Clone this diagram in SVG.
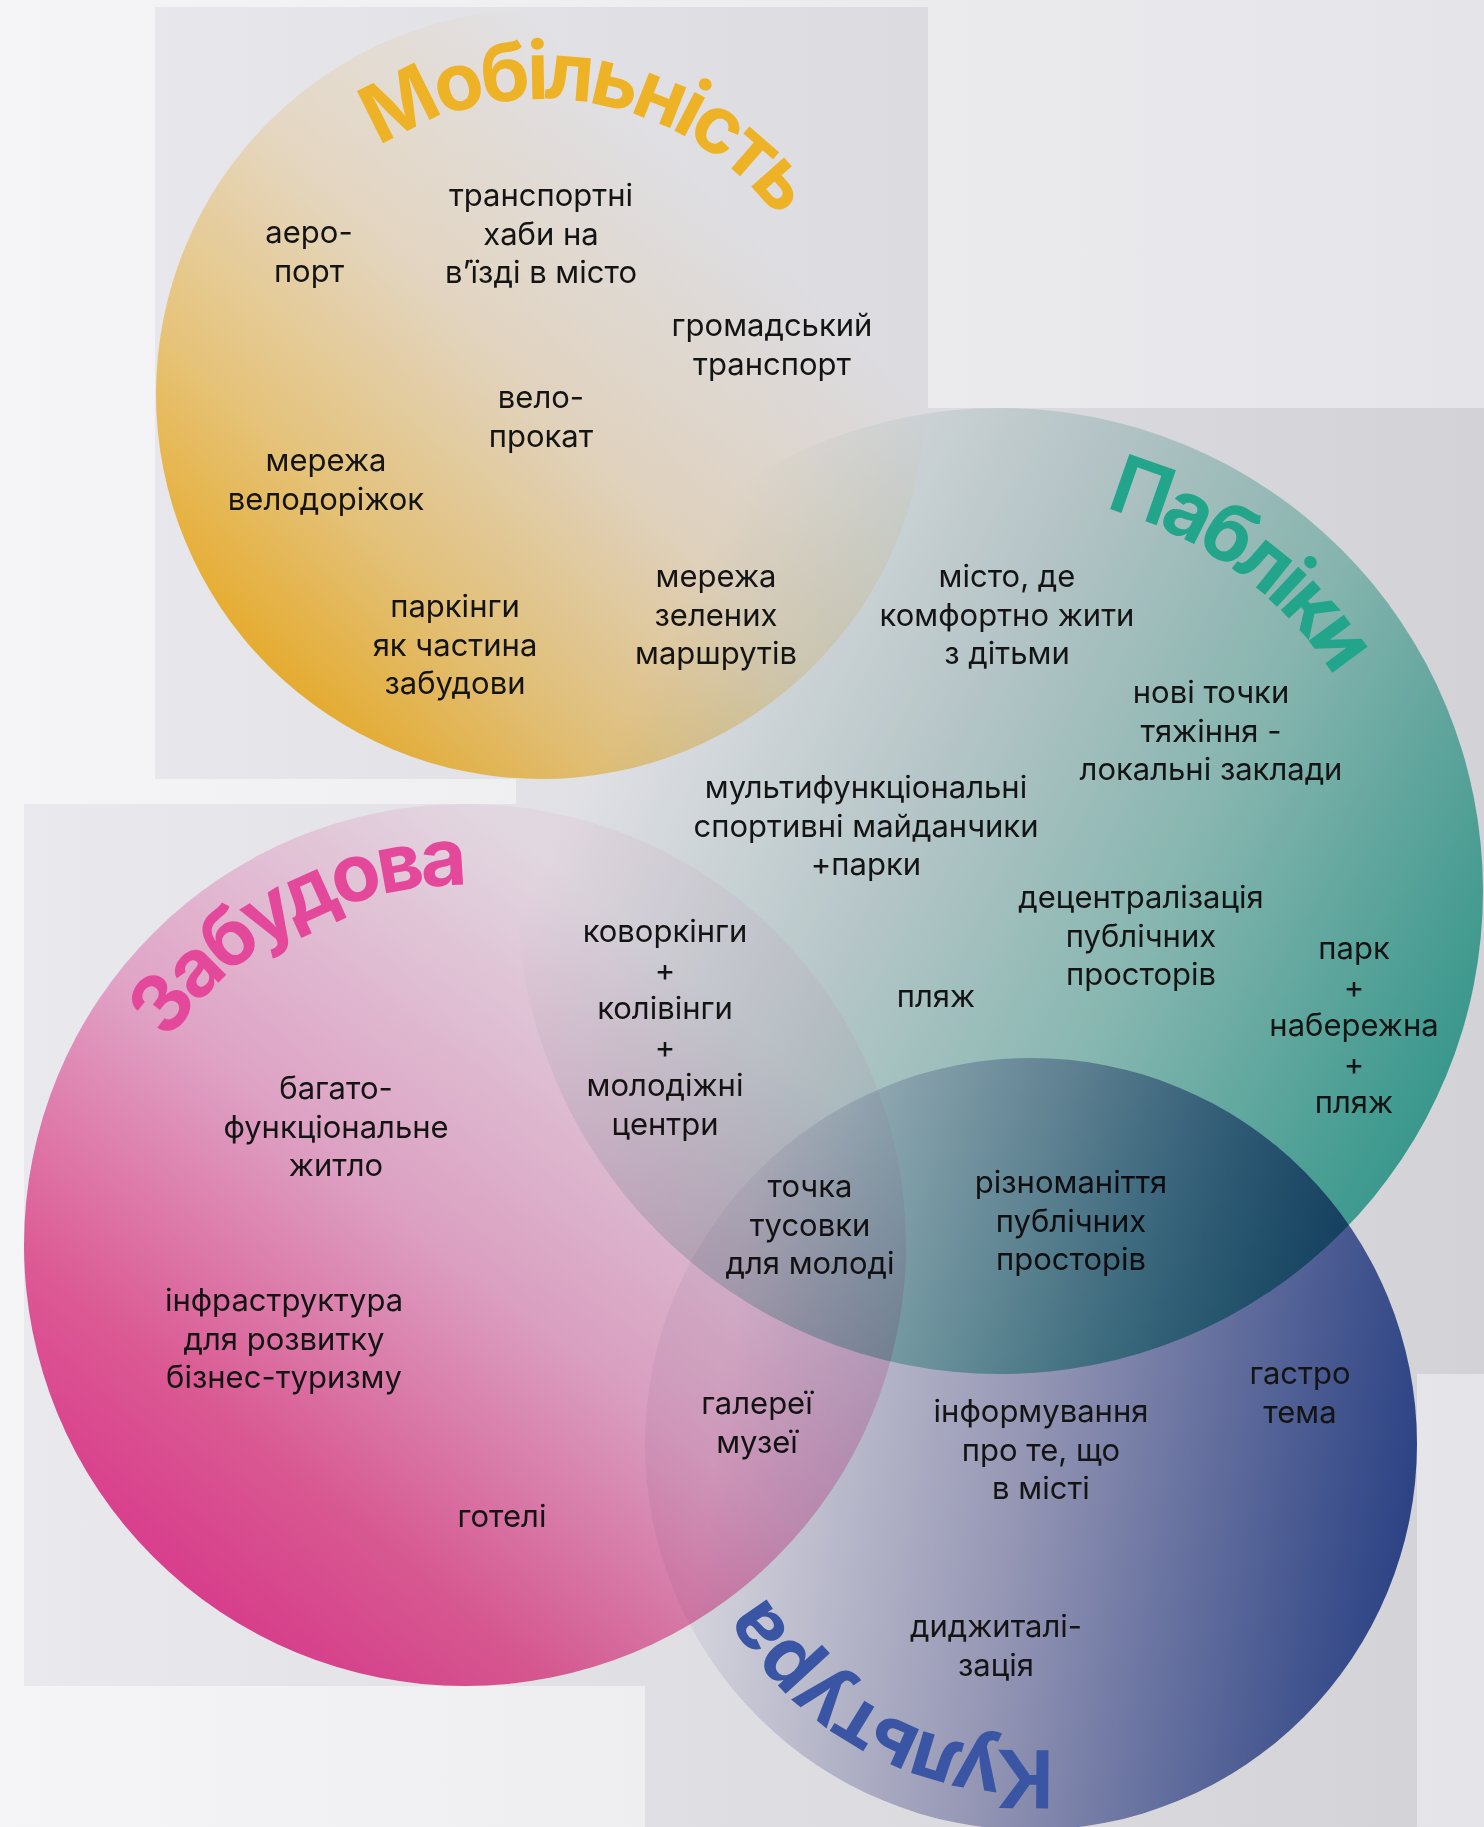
<svg xmlns="http://www.w3.org/2000/svg" width="1484" height="1827" viewBox="0 0 1484 1827">
<defs>
<style>
.lbl{font-family:Inter,"Noto Sans","DejaVu Sans",sans-serif;font-size:31px;fill:#141414;text-anchor:middle}
.ttl{font-family:Inter,"Noto Sans","DejaVu Sans",sans-serif;font-size:80px;font-weight:700;letter-spacing:-5px;text-anchor:middle}
.circ{mix-blend-mode:multiply}
</style>
<linearGradient id="bgG" gradientUnits="userSpaceOnUse" x1="0" y1="0" x2="1484" y2="0">
<stop offset="0" stop-color="#f5f5f7"/><stop offset="1" stop-color="#e5e5e9"/>
</linearGradient>
<linearGradient id="rectG" gradientUnits="userSpaceOnUse" x1="0" y1="0" x2="1484" y2="0">
<stop offset="0" stop-color="#e9e9ee"/><stop offset="1" stop-color="#d3d2d7"/>
</linearGradient>
<linearGradient id="gMob" x1="0.1" y1="0.9" x2="0.9" y2="0.1">
<stop offset="0" stop-color="#ffb81c"/><stop offset="0.25" stop-color="#ffd985"/><stop offset="0.5" stop-color="#fff0d4"/><stop offset="0.8" stop-color="#ffffff"/>
</linearGradient>
<linearGradient id="gPub" x1="1" y1="0.7" x2="0.05" y2="0.2">
<stop offset="0" stop-color="#3cb4a2"/><stop offset="0.35" stop-color="#9fd8cc"/><stop offset="0.6" stop-color="#d2e6e3"/><stop offset="0.9" stop-color="#ffffff"/>
</linearGradient>
<linearGradient id="gZab" x1="0.15" y1="0.9" x2="0.8" y2="0.1">
<stop offset="0" stop-color="#ef3f96"/><stop offset="0.2" stop-color="#f2629f"/><stop offset="0.5" stop-color="#f8b4d6"/><stop offset="0.9" stop-color="#fff4f9"/>
</linearGradient>
<linearGradient id="gKul" x1="1" y1="0.55" x2="0" y2="0.4">
<stop offset="0" stop-color="#34509c"/><stop offset="0.5" stop-color="#aeb0cf"/><stop offset="0.9" stop-color="#f4f4f8"/>
</linearGradient>
<path id="pMob" d="M 246 394 A 295 295 0 0 1 836 394"/>
<path id="pPub" d="M 603 891 A 397 397 0 0 1 1397 891"/>
<path id="pZab" d="M 105 1245 A 360 360 0 0 1 825 1245"/>
<path id="pKul" d="M 1337 1444 A 306 306 0 0 1 725 1444"/>
</defs>
<rect x="0" y="0" width="1484" height="1827" fill="url(#bgG)"/>
<g id="backgrounds" fill="url(#rectG)">
<rect x="155" y="7" width="773" height="772"/>
<rect x="516" y="408" width="968" height="966"/>
<rect x="24" y="804" width="882" height="882"/>
<rect x="645" y="1058" width="772" height="772"/>
</g>
<g id="connectors"></g>
<g id="node-mobility">
<circle class="circ" cx="541" cy="394" r="385" fill="url(#gMob)"/>
<text class="ttl" fill="#eeb226"><textPath href="#pMob" startOffset="513">Мобільність</textPath></text>
<text class="lbl" x="309" y="243">аеро-<tspan x="309" dy="38.5">порт</tspan></text>
<text class="lbl" x="541" y="206">транспортні<tspan x="541" dy="38.5">хаби на</tspan><tspan x="541" dy="38.5">в’їзді в місто</tspan></text>
<text class="lbl" x="772" y="336">громадський<tspan x="772" dy="38.5">транспорт</tspan></text>
<text class="lbl" x="541" y="408">вело-<tspan x="541" dy="38.5">прокат</tspan></text>
<text class="lbl" x="326" y="471">мережа<tspan x="326" dy="38.5">велодоріжок</tspan></text>
<text class="lbl" x="455" y="617">паркінги<tspan x="455" dy="38.5">як частина</tspan><tspan x="455" dy="38.5">забудови</tspan></text>
<text class="lbl" x="716" y="587">мережа<tspan x="716" dy="38.5">зелених</tspan><tspan x="716" dy="38.5">маршрутів</tspan></text>
</g>
<g id="node-publiky">
<circle class="circ" cx="1000" cy="891" r="483" fill="url(#gPub)"/>
<text class="ttl" fill="#23a58b"><textPath href="#pPub" startOffset="873">Пабліки</textPath></text>
<text class="lbl" x="1007" y="587">місто, де<tspan x="1007" dy="38.5">комфортно жити</tspan><tspan x="1007" dy="38.5">з дітьми</tspan></text>
<text class="lbl" x="1211" y="703">нові точки<tspan x="1211" dy="38.5">тяжіння -</tspan><tspan x="1211" dy="38.5">локальні заклади</tspan></text>
<text class="lbl" x="866" y="798">мультифункціональні<tspan x="866" dy="38.5">спортивні майданчики</tspan><tspan x="866" dy="38.5">+парки</tspan></text>
<text class="lbl" x="1141" y="908">децентралізація<tspan x="1141" dy="38.5">публічних</tspan><tspan x="1141" dy="38.5">просторів</tspan></text>
<text class="lbl" x="1354" y="959">парк<tspan x="1354" dy="38.5">+</tspan><tspan x="1354" dy="38.5">набережна</tspan><tspan x="1354" dy="38.5">+</tspan><tspan x="1354" dy="38.5">пляж</tspan></text>
<text class="lbl" x="665" y="942">коворкінги<tspan x="665" dy="38.5">+</tspan><tspan x="665" dy="38.5">колівінги</tspan><tspan x="665" dy="38.5">+</tspan><tspan x="665" dy="38.5">молодіжні</tspan><tspan x="665" dy="38.5">центри</tspan></text>
<text class="lbl" x="936" y="1007">пляж</text>
<text class="lbl" x="810" y="1197">точка<tspan x="810" dy="38.5">тусовки</tspan><tspan x="810" dy="38.5">для молоді</tspan></text>
<text class="lbl" x="1071" y="1193">різноманіття<tspan x="1071" dy="38.5">публічних</tspan><tspan x="1071" dy="38.5">просторів</tspan></text>
</g>
<g id="node-zabudova">
<circle class="circ" cx="465" cy="1245" r="441" fill="url(#gZab)"/>
<text class="ttl" fill="#e4489a"><textPath href="#pZab" startOffset="390">Забудова</textPath></text>
<text class="lbl" x="336" y="1099">багато-<tspan x="336" dy="38.5">функціональне</tspan><tspan x="336" dy="38.5">житло</tspan></text>
<text class="lbl" x="284" y="1311">інфраструктура<tspan x="284" dy="38.5">для розвитку</tspan><tspan x="284" dy="38.5">бізнес-туризму</tspan></text>
<text class="lbl" x="757" y="1414">галереї<tspan x="757" dy="38.5">музеї</tspan></text>
<text class="lbl" x="502" y="1527">готелі</text>
</g>
<g id="node-kultura">
<circle class="circ" cx="1031" cy="1444" r="386" fill="url(#gKul)"/>
<text class="ttl" fill="#3a55a3"><textPath href="#pKul" startOffset="628">Культура</textPath></text>
<text class="lbl" x="1041" y="1422">інформування<tspan x="1041" dy="38.5">про те, що</tspan><tspan x="1041" dy="38.5">в місті</tspan></text>
<text class="lbl" x="1300" y="1384">гастро<tspan x="1300" dy="38.5">тема</tspan></text>
<text class="lbl" x="996" y="1637">диджиталі-<tspan x="996" dy="38.5">зація</tspan></text>
</g>
</svg>
